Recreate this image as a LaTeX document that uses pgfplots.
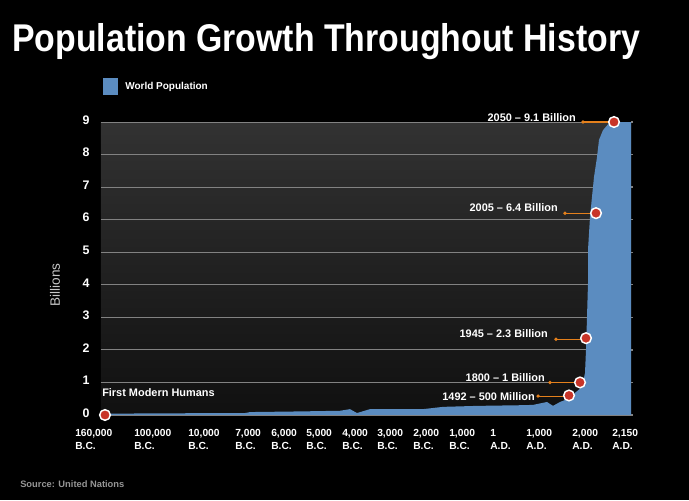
\documentclass[border=0pt]{standalone}
\usepackage{fontspec}
\setmainfont{Liberation Sans}
\usepackage{pgfplots}
\usepackage{pgfplotstable}
\pgfplotsset{compat=1.18}

\definecolor{areablue}{RGB}{91,140,192}
\definecolor{dotred}{RGB}{200,52,40}
\definecolor{leader}{RGB}{228,128,28}
\definecolor{gridgray}{RGB}{130,130,130}

% x = horizontal position on the (non-linear) time axis, y = billions
\pgfplotstableread{
x y
105 0.02
110 0.04
150 0.05
245 0.06
250 0.09
300 0.11
340 0.13
350 0.18
357 0.06
370 0.18
423 0.18
443 0.25
477 0.28
520 0.30
533 0.31
547 0.40
553 0.28
560 0.40
570 0.52
575 0.68
582 0.86
585 1.29
586 2.00
587 3.00
588 4.05
588 5.07
590 6.08
592 6.70
594 7.31
597 7.92
599 8.45
603 8.75
610 9.00
631 9.00
}\popdata

\begin{document}
\begin{tikzpicture}
\fill[black] (0,0) rectangle (516.75pt,375pt);
\begin{axis}[
  at={(75.75pt,63.75pt)}, anchor=south west,
  scale only axis, width=397.5pt, height=219.75pt,
  xmin=101, xmax=631, ymin=0, ymax=9,
  xtick=\empty, ytick={0,...,9},
  ymajorgrids, grid style={gridgray, line width=0.6pt},
  axis line style={draw=none},
  ytick pos=right, yticklabel pos=left,
  tick align=outside, major tick length=1.5pt,
  tick style={gridgray, line width=1pt},
  /pgf/number format/assume math mode=true,
  yticklabel style={font=\bfseries\fontsize{9.3}{10}\selectfont, text=white,
    anchor=east, inner sep=0pt, xshift=-7pt, yshift=1.5pt},
  axis background/.style={top color={rgb,255:red,50;green,50;blue,50},
    bottom color={rgb,255:red,16;green,16;blue,16}},
  clip=false,
]
\addplot[fill=areablue, draw=none] table {\popdata} \closedcycle;

% leaders
\draw[leader, line width=0.8pt] (axis cs:583,9.0) -- (axis cs:610,9.0);
\draw[leader, line width=0.8pt] (axis cs:565,6.2) -- (axis cs:592,6.2);
\draw[leader, line width=0.8pt] (axis cs:556,2.33) -- (axis cs:582,2.33);
\draw[leader, line width=0.8pt] (axis cs:550,1.0) -- (axis cs:576,1.0);
\draw[leader, line width=0.8pt] (axis cs:538,0.58) -- (axis cs:565,0.58);
\fill[leader] (axis cs:583,9.0) circle (1.4pt);
\fill[leader] (axis cs:565,6.2) circle (1.4pt);
\fill[leader] (axis cs:556,2.33) circle (1.4pt);
\fill[leader] (axis cs:550,1.0) circle (1.4pt);
\fill[leader] (axis cs:538,0.58) circle (1.4pt);

\addplot[only marks, mark=*, mark size=4pt,
  mark options={fill=dotred, draw=white, line width=1.1pt}]
coordinates {(105,0) (569,0.6) (580,1.0) (586,2.36) (596,6.2) (614,9.0)};

\begin{scope}[every node/.style={text=white, inner sep=0pt,
    font=\bfseries\fontsize{8.2}{9}\selectfont}]
\node[anchor=east] at (axis cs:576,9.15) {2050 – 9.1 Billion};
\node[anchor=east] at (axis cs:558,6.36) {2005 – 6.4 Billion};
\node[anchor=east] at (axis cs:548,2.50) {1945 – 2.3 Billion};
\node[anchor=east] at (axis cs:545,1.14) {1800 – 1 Billion};
\node[anchor=east] at (axis cs:535,0.58) {1492 – 500 Million};
\node[anchor=west] at (axis cs:102,0.68) {First Modern Humans};
\end{scope}
\end{axis}

\begin{scope}[x=0.75pt, y=-0.75pt, yshift=375pt]
\node[anchor=base west, inner sep=0pt, text=white,
  font=\bfseries\fontsize{29}{32}\selectfont] at (12,52)
  {\scalebox{0.875}[1]{Population Growth Throughout History}};
\fill[areablue] (103,78) rectangle (118,95);
\node[anchor=west, inner sep=0pt, text=white,
  font=\bfseries\fontsize{7.5}{9}\selectfont] at (125,86.5) {World Population};
\node[rotate=90, text={rgb,255:red,200;green,200;blue,200},
  font=\fontsize{10.2}{12}\selectfont] at (55,285) {Billions};
\node[anchor=west, inner sep=0pt, text={rgb,255:red,150;green,150;blue,150},
  font=\bfseries\fontsize{7}{8}\selectfont] at (20,484) {Source: United Nations};
\begin{scope}[every node/.style={anchor=north west, align=left, inner sep=0pt,
    text=white, font=\bfseries\fontsize{7.7}{9.8}\selectfont}]
\node at (75,429) {160,000\\B.C.};
\node at (134,429) {100,000\\B.C.};
\node at (188,429) {10,000\\B.C.};
\node at (235,429) {7,000\\B.C.};
\node at (271,429) {6,000\\B.C.};
\node at (306,429) {5,000\\B.C.};
\node at (342,429) {4,000\\B.C.};
\node at (377,429) {3,000\\B.C.};
\node at (413,429) {2,000\\B.C.};
\node at (449,429) {1,000\\B.C.};
\node at (490,429) {1\\A.D.};
\node at (526,429) {1,000\\A.D.};
\node at (572,429) {2,000\\A.D.};
\node at (612,429) {2,150\\A.D.};
\end{scope}
\end{scope}
\end{tikzpicture}
\end{document}
